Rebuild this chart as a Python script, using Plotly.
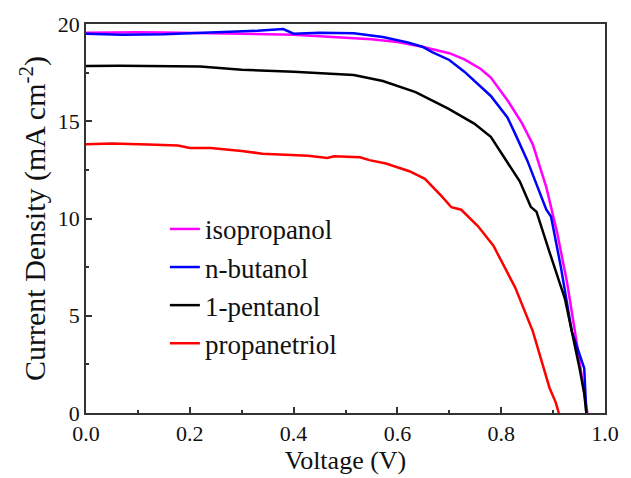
import plotly.graph_objects as go

names = ["isopropanol", "n-butanol", "1-pentanol", "propanetriol"]
colors = ["#ff00ff", "#0000ff", "#000000", "#ff0000"]

iso_v = [0, 0.05, 0.1, 0.15, 0.2, 0.3, 0.4, 0.49, 0.55, 0.6, 0.648, 0.7, 0.729, 0.76, 0.78,
         0.814, 0.84, 0.861, 0.887, 0.908, 0.927, 0.942, 0.957, 0.966]
iso_j = [19.55, 19.57, 19.57, 19.56, 19.53, 19.5, 19.45, 19.33, 19.22, 19.07, 18.83, 18.5, 18.18,
         17.7, 17.25, 16.0, 14.9, 13.8, 11.6, 9.25, 6.7, 4.2, 1.65, 0]

but_v = [0, 0.07, 0.15, 0.25, 0.33, 0.38, 0.40, 0.45, 0.516, 0.572, 0.62, 0.648, 0.667, 0.7,
         0.729, 0.78, 0.812, 0.827, 0.85, 0.887, 0.896, 0.915, 0.936, 0.960, 0.964]
but_j = [19.5, 19.45, 19.47, 19.55, 19.65, 19.74, 19.5, 19.55, 19.52, 19.33, 19.05, 18.83, 18.55,
         18.15, 17.55, 16.3, 15.2, 14.35, 13.0, 10.45, 10.1, 7.5, 4.2, 2.3, 0]

pen_v = [0, 0.065, 0.22, 0.30, 0.40, 0.478, 0.516, 0.572, 0.635, 0.698, 0.748, 0.78, 0.811,
         0.836, 0.857, 0.868, 0.894, 0.923, 0.951, 0.960, 0.964]
pen_j = [17.84, 17.85, 17.82, 17.65, 17.55, 17.42, 17.38, 17.07, 16.5, 15.65, 14.88, 14.2, 12.9,
         11.9, 10.6, 10.35, 8.2, 5.85, 2.3, 1.0, 0]

pro_v = [0, 0.05, 0.12, 0.177, 0.2, 0.24, 0.30, 0.34, 0.428, 0.465, 0.478, 0.528, 0.546, 0.578,
         0.623, 0.653, 0.686, 0.704, 0.723, 0.755, 0.785, 0.827, 0.861, 0.893, 0.905, 0.911]
pro_j = [13.82, 13.85, 13.8, 13.75, 13.62, 13.63, 13.47, 13.33, 13.22, 13.11, 13.2, 13.15, 13.0,
         12.83, 12.43, 12.04, 11.12, 10.58, 10.45, 9.61, 8.6, 6.45, 4.2, 1.3, 0.55, 0]

series = [(iso_v, iso_j), (but_v, but_j), (pen_v, pen_j), (pro_v, pro_j)]

fig = go.Figure()
for i, (v, j) in enumerate(series):
    fig.add_trace(go.Scatter(x=v, y=j, mode="lines", name=names[i], legendgroup=names[i],
                             line=dict(color=colors[i], width=2.5)))

axis_common = dict(showline=True, mirror=True, linecolor="#333333", linewidth=1.5,
                   ticks="inside", ticklen=6, tickwidth=1.5, tickcolor="#333333",
                   showgrid=False, zeroline=False,
                   tickfont=dict(family="Liberation Serif", size=22, color="#111111"))

fig.update_xaxes(range=[0, 1.0], dtick=0.2, tickformat=".1f",
                 minor=dict(ticks="inside", ticklen=3, tickwidth=1.5, dtick=0.1, tickcolor="#333333"),
                 title=dict(text="Voltage (V)", font=dict(family="Liberation Serif", size=26, color="#111111"),
                            standoff=2),
                 **axis_common)
fig.update_yaxes(range=[0, 20], dtick=5,
                 minor=dict(ticks="inside", ticklen=3, tickwidth=1.5, dtick=2.5, tickcolor="#333333"),
                 title=dict(text="Current Density (mA cm<sup>-2</sup>)",
                            font=dict(family="Liberation Serif", size=30, color="#111111"), standoff=3),
                 **axis_common)

fig.update_layout(
    width=631, height=478,
    margin=dict(l=86, r=14, t=21, b=62),
    plot_bgcolor="white", paper_bgcolor="white",
    legend=dict(x=0.152, y=0.535, xanchor="left", yanchor="top", bgcolor="rgba(0,0,0,0)",
                font=dict(family="Liberation Serif", size=27, color="#111111"),
                tracegroupgap=0),
    showlegend=True,
)

fig.write_html("out.html")
